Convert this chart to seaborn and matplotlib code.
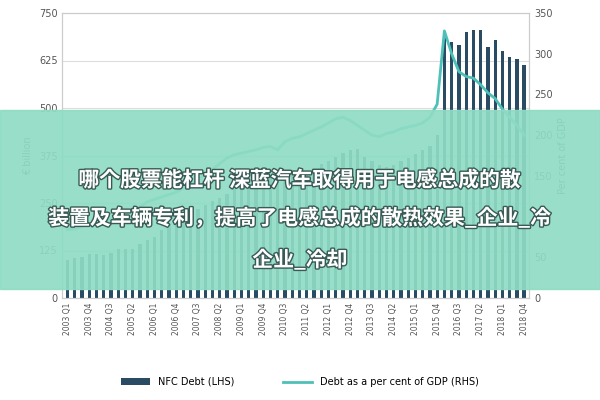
import matplotlib
matplotlib.use("Agg")
import matplotlib.pyplot as plt
import matplotlib.patheffects as pe
from matplotlib import font_manager as fm
import seaborn as sns
import numpy as np
import pandas as pd

quarters = [f"{y} Q{q}" for y in range(2003, 2019) for q in range(1, 5)]
nfc_debt = [101, 106, 108, 115, 117, 114, 118, 128, 128, 130, 142, 152,
            160, 178, 195, 205, 215, 228, 235, 245, 255, 262, 275, 288,
            298, 300, 310, 318, 322, 318, 322, 330, 335, 330, 340, 352,
            360, 372, 382, 390, 392, 372, 360, 350, 345, 350, 360, 368,
            380, 390, 400, 430, 690, 675, 665, 700, 705, 705, 660, 678,
            650, 635, 628, 612]
debt_gdp = [84, 85, 88, 92, 90, 92, 97, 102, 104, 108, 112, 118,
            121, 124, 127, 130, 135, 140, 145, 152, 158, 165, 172, 176,
            178, 180, 182, 185, 186, 182, 192, 196, 198, 202, 206, 210,
            215, 220, 222, 218, 212, 206, 200, 198, 202, 204, 208, 210,
            212, 215, 222, 238, 328, 300, 278, 272, 270, 262, 252, 245,
            232, 222, 212, 200]
tick_labels = quarters[::3]

df = pd.DataFrame({"q": quarters, "debt": nfc_debt, "pct": debt_gdp})
x = np.arange(len(quarters))

fig = plt.figure(figsize=(6, 4), dpi=100)
ax = fig.add_axes([0.104, 0.255, 0.778, 0.7125])
sns.barplot(data=df, x="q", y="debt", color="#1f4e6e", width=0.45, ax=ax,
            label="NFC Debt (LHS)")
ax.set_ylim(0, 750)
ax.set_yticks([0, 125, 250, 375, 500, 625, 750])
ax.set_xlim(-0.7, len(quarters) - 0.3)
ax.set_xticks(x[::3])
ax.set_xticklabels(tick_labels, rotation=90, fontsize=5.5, color="#555")
ax.tick_params(axis="y", labelsize=7, colors="#555", length=0)
ax.tick_params(axis="x", length=0)
ax.grid(axis="y", color="#ddd", lw=0.8)
ax.set_axisbelow(True)
ax.set_xlabel("")
ax.set_ylabel("€ billion", fontsize=7, color="#555")
for s in ax.spines.values():
    s.set_color("#ccc")

ax2 = ax.twinx()
sns.lineplot(x=x, y=df["pct"], color="#4fc0b8", lw=2, ax=ax2,
             label="Debt as a per cent of GDP (RHS)")
ax2.set_ylim(0, 350)
ax2.set_yticks([0, 50, 100, 150, 200, 250, 300, 350])
ax2.tick_params(axis="y", labelsize=7, colors="#555", length=0)
ax2.set_ylabel("Per cent of GDP", fontsize=7, color="#555")
ax2.legend_.remove()
for s in ax2.spines.values():
    s.set_color("#ccc")

h1, l1 = ax.get_legend_handles_labels()
h2, l2 = ax2.get_legend_handles_labels()
ax.legend(h1 + h2, l1 + l2, loc="center", bbox_to_anchor=(0.5, 1 - 382 / 400),
          bbox_transform=fig.transFigure, ncol=2, frameon=False, fontsize=7,
          handlelength=3, columnspacing=5)

fig.patches.append(plt.Rectangle((0, 1 - 289 / 400), 1, (289 - 110) / 400,
                                 transform=fig.transFigure, color="#8fdcc4",
                                 alpha=0.92, zorder=10))

avail = {f.name for f in fm.fontManager.ttflist}
cjk = [n for n in ["Noto Sans CJK SC", "Noto Sans CJK JP", "Noto Sans CJK TC",
                   "Noto Sans CJK KR"] if n in avail] or ["DejaVu Sans"]
lines = ["哪个股票能杠杆 深蓝汽车取得用于电感总成的散",
         "装置及车辆专利，提高了电感总成的散热效果_企业_冷",
         "企业_冷却"]
ys = [180, 218, 260]
for t, yy in zip(lines, ys):
    fig.text(0.5, 1 - yy / 400, t, ha="center", va="center", fontsize=15,
             fontweight="bold", color="white", fontfamily=cjk[0],
             zorder=11,
             path_effects=[pe.withStroke(linewidth=2, foreground="#3a5a55")])

fig.savefig("out.png", dpi=100)
